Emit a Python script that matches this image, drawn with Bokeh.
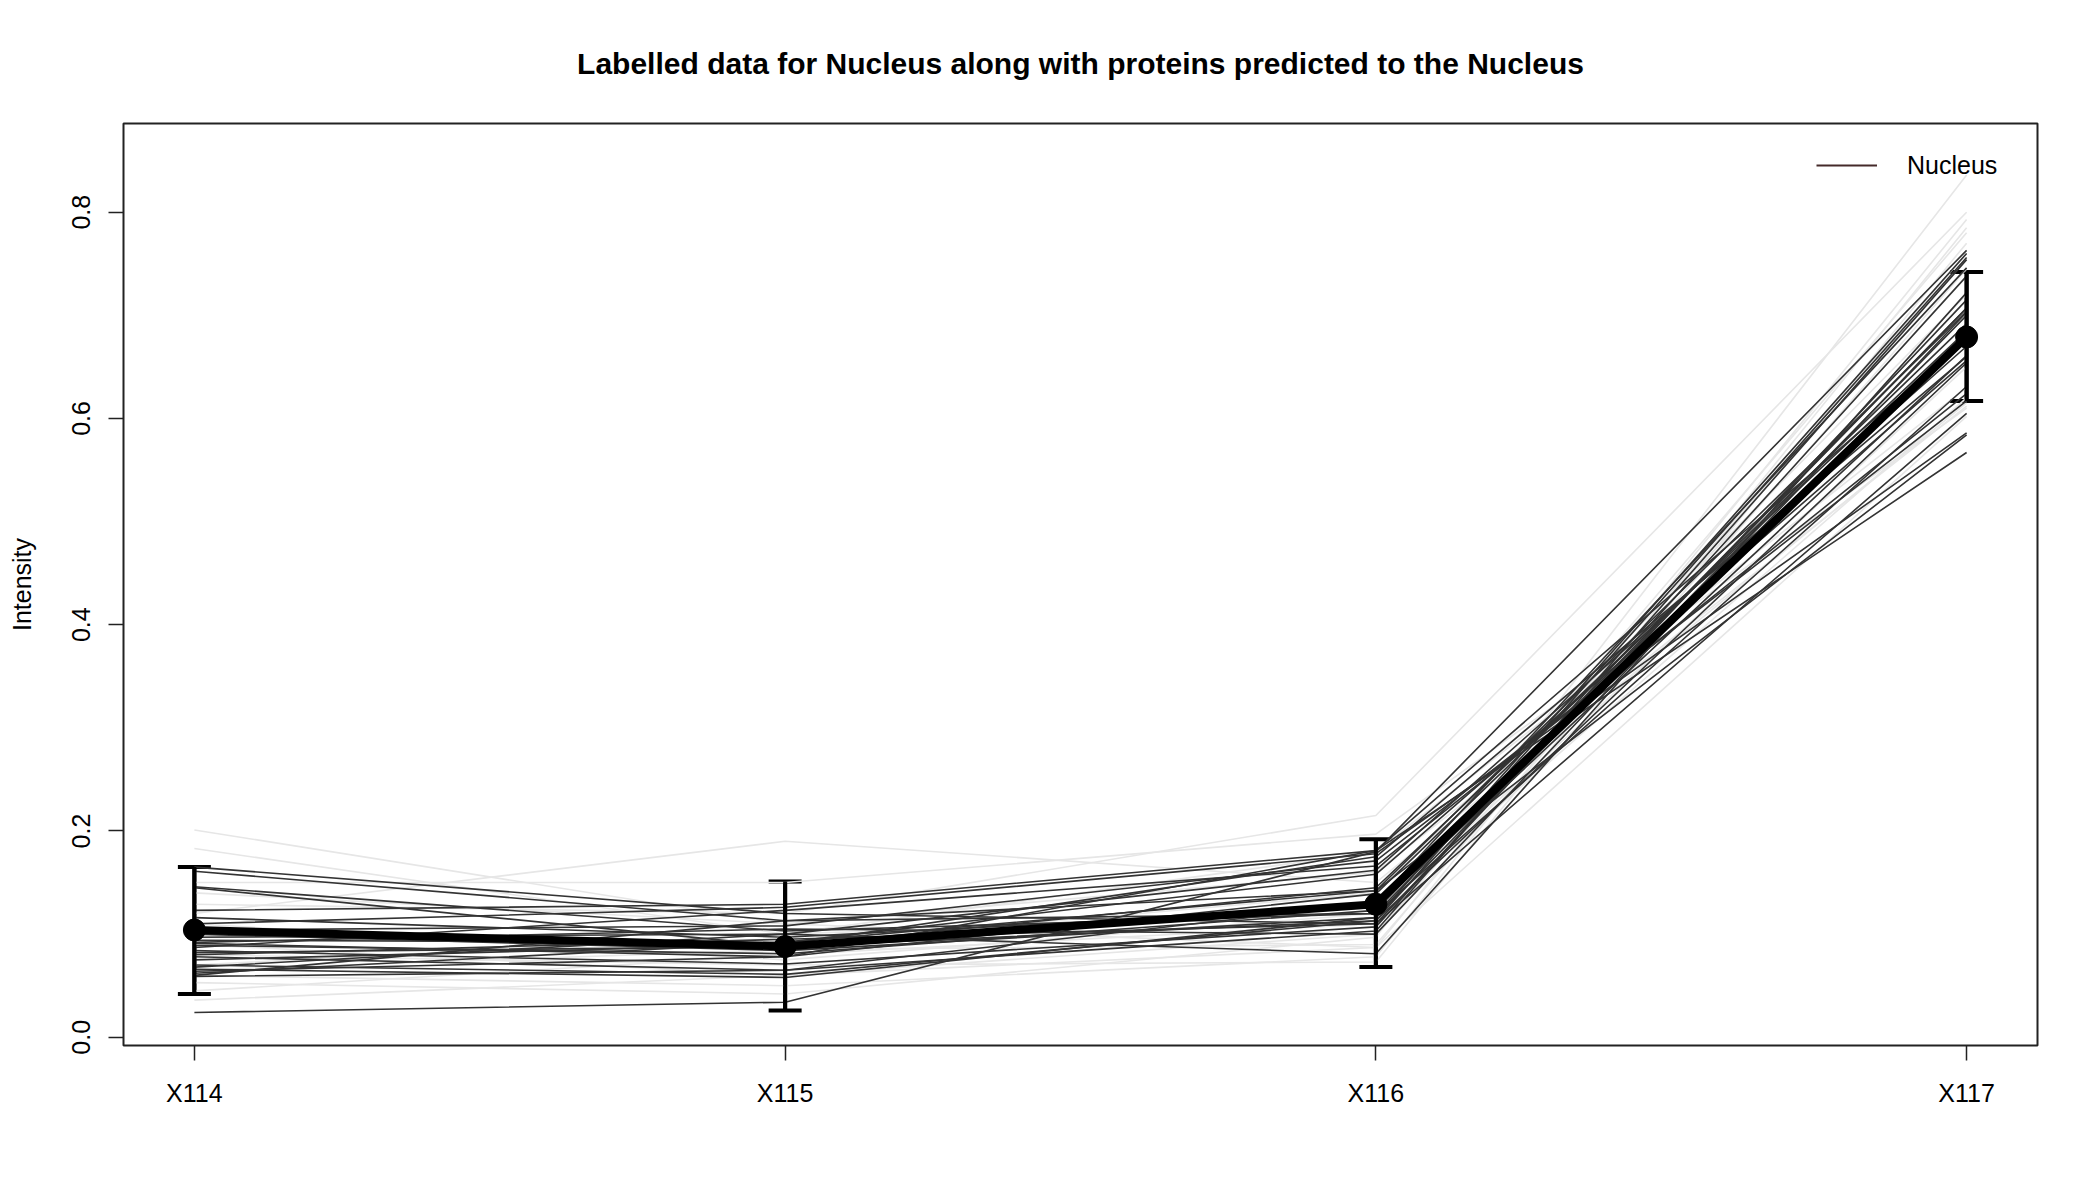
from bokeh.plotting import figure
from bokeh.models import (Range1d, FixedTicker, PrintfTickFormatter, Whisker, TeeHead,
                          ColumnDataSource, Legend, LegendItem, Title)
from bokeh.embed import file_html
from bokeh.resources import INLINE

# ---- data ----
channels = ["X114", "X115", "X116", "X117"]
xpos = [1, 2, 3, 4]

# labelled Nucleus profiles (dark lines): values at X114, X115, X116, X117
nuc_x114 = [0.165, 0.161, 0.146, 0.145, 0.123, 0.116, 0.110, 0.104, 0.100, 0.097,
            0.094, 0.091, 0.089, 0.087, 0.084, 0.082, 0.080, 0.078, 0.075, 0.070,
            0.068, 0.066, 0.062, 0.060, 0.059, 0.064, 0.024, 0.092]
nuc_x115 = [0.120, 0.113, 0.103, 0.088, 0.129, 0.097, 0.126, 0.108, 0.084, 0.100,
            0.092, 0.078, 0.081, 0.123, 0.071, 0.088, 0.095, 0.065, 0.090, 0.061,
            0.100, 0.058, 0.092, 0.113, 0.065, 0.078, 0.034, 0.105]
nuc_x116 = [0.110, 0.142, 0.120, 0.113, 0.181, 0.126, 0.178, 0.171, 0.116, 0.081,
            0.158, 0.139, 0.123, 0.166, 0.107, 0.145, 0.110, 0.103, 0.175, 0.113,
            0.162, 0.116, 0.142, 0.120, 0.130, 0.181, 0.180, 0.100]
nuc_x117 = [0.605, 0.584, 0.631, 0.654, 0.567, 0.661, 0.586, 0.617, 0.700, 0.722,
            0.656, 0.692, 0.707, 0.624, 0.738, 0.685, 0.715, 0.754, 0.660, 0.756,
            0.670, 0.760, 0.704, 0.707, 0.746, 0.677, 0.763, 0.703]

# proteins predicted to the Nucleus (light lines)
pred_x114 = [0.201, 0.183, 0.120, 0.150, 0.129, 0.053, 0.036, 0.060, 0.080, 0.100,
             0.110, 0.070, 0.090, 0.140, 0.045, 0.065]
pred_x115 = [0.110, 0.100, 0.190, 0.150, 0.120, 0.042, 0.060, 0.050, 0.070, 0.090,
             0.075, 0.100, 0.060, 0.110, 0.080, 0.085]
pred_x116 = [0.087, 0.120, 0.150, 0.197, 0.215, 0.097, 0.087, 0.078, 0.073, 0.140,
             0.120, 0.180, 0.100, 0.160, 0.110, 0.090]
pred_x117 = [0.602, 0.620, 0.615, 0.610, 0.800, 0.836, 0.793, 0.785, 0.770, 0.720,
             0.650, 0.630, 0.760, 0.612, 0.780, 0.745]

# mean profile and error bars
mean_vals = [0.104, 0.088, 0.129, 0.679]
err_upper = [0.165, 0.151, 0.192, 0.742]
err_lower = [0.042, 0.026, 0.068, 0.617]

legend_label = "Nucleus"
FONT = "Liberation Sans"

p = figure(width=2100, height=1200, output_backend="svg", toolbar_location=None,
           x_range=Range1d(0.88, 4.12), y_range=Range1d(-0.008, 0.886),
           min_border_left=123, min_border_right=63, min_border_top=123,
           min_border_bottom=155, title=None)
p.background_fill_color = "white"
p.border_fill_color = "white"
p.outline_line_color = "#222222"
p.outline_line_width = 2
p.xgrid.visible = False
p.ygrid.visible = False

t = Title(text="Labelled data for Nucleus along with proteins predicted to the Nucleus",
          align="center", text_font=FONT, text_font_size="30px", text_font_style="bold",
          text_color="black", standoff=87)
p.add_layout(t, "above")

# light predicted lines
for i in range(len(pred_x114)):
    p.line(xpos, [pred_x114[i], pred_x115[i], pred_x116[i], pred_x117[i]],
           line_color="#e6e6e6", line_width=1.6)

# dark labelled lines
for i in range(len(nuc_x114)):
    p.line(xpos, [nuc_x114[i], nuc_x115[i], nuc_x116[i], nuc_x117[i]],
           line_color="#333333", line_width=1.6)

# error bars
src = ColumnDataSource(dict(x=xpos, upper=err_upper, lower=err_lower))
p.segment(x0="x", y0="lower", x1="x", y1="upper", source=src,
          line_color="black", line_width=4)
w = Whisker(base="x", upper="upper", lower="lower", source=src,
            line_color="black", line_width=4,
            upper_head=TeeHead(size=33, line_width=4, line_color="black"),
            lower_head=TeeHead(size=33, line_width=4, line_color="black"))
p.add_layout(w)

# mean line with points
p.line(xpos, mean_vals, line_color="black", line_width=8)
p.scatter(xpos, mean_vals, size=22, fill_color="black", line_color="black")

# legend (renderer with a single missing value so only the legend glyph shows)
leg_r = p.line([float("nan")], [float("nan")], line_color="#452a2a", line_width=2)
legend = Legend(items=[LegendItem(label=legend_label, renderers=[leg_r])],
                location=(1693, 865), padding=0, margin=0, spacing=0,
                glyph_width=61, glyph_height=30, label_height=30, label_standoff=30,
                label_text_font=FONT, label_text_font_size="25px",
                label_text_color="black",
                border_line_color=None, background_fill_alpha=0)
p.add_layout(legend)

# axes
xa = p.xaxis[0]
xa.ticker = FixedTicker(ticks=xpos)
xa.major_label_overrides = {1: channels[0], 2: channels[1], 3: channels[2], 4: channels[3]}
ya = p.yaxis[0]
ya.ticker = FixedTicker(ticks=[0.0, 0.2, 0.4, 0.6, 0.8])
ya.formatter = PrintfTickFormatter(format="%.1f")
ya.major_label_orientation = "vertical"
ya.axis_label = "Intensity"
for ax in (xa, ya):
    ax.axis_line_color = None
    ax.major_tick_line_color = "#222222"
    ax.major_tick_line_width = 1.5
    ax.major_tick_out = 15
    ax.major_tick_in = 0
    ax.minor_tick_line_color = None
    ax.major_label_text_font = FONT
    ax.major_label_text_font_size = "25px"
    ax.major_label_text_color = "black"
    ax.major_label_standoff = 18
ya.axis_label_text_font = FONT
ya.axis_label_text_font_size = "25px"
ya.axis_label_text_font_style = "normal"
ya.axis_label_text_color = "black"
ya.axis_label_standoff = 34

open("out.html", "w").write(file_html(p, INLINE))
